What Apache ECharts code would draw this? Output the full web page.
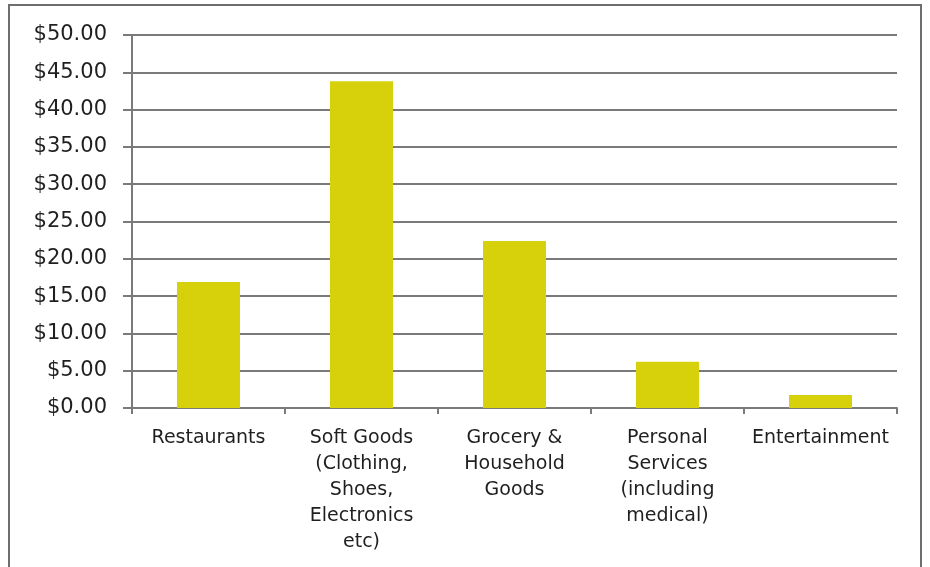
<!DOCTYPE html>
<html>
<head>
<meta charset="utf-8">
<script src="https://cdn.jsdelivr.net/npm/echarts@6/dist/echarts.min.js"></script>
<style>
  html, body { margin: 0; padding: 0; background: #fff; }
  #chart { width: 930px; height: 567px; }
</style>
</head>
<body>
<div id="chart"></div>
<script>
// Average spend per category
const categories = [
  'Restaurants',
  'Soft Goods\n(Clothing,\nShoes,\nElectronics\netc)',
  'Grocery &\nHousehold\nGoods',
  'Personal\nServices\n(including\nmedical)',
  'Entertainment'
];
const spend = [16.9, 43.8, 22.4, 6.2, 1.75];

const axisGray = '#7a7a7a';
const chart = echarts.init(document.getElementById('chart'));
chart.setOption({
  animation: false,
  backgroundColor: '#ffffff',
  textStyle: { fontFamily: 'DejaVu Sans' },
  graphic: [{
    type: 'rect',
    shape: { x: 9, y: 5, width: 912, height: 600 },
    style: { fill: 'none', stroke: '#6e6e6e', lineWidth: 2 }
  }],
  grid: { left: 132, right: 33, top: 35, bottom: 159 },
  xAxis: {
    type: 'category',
    data: categories,
    axisLine: { lineStyle: { color: axisGray, width: 2 } },
    axisTick: { show: true, length: 6, lineStyle: { color: axisGray, width: 2 } },
    axisLabel: {
      interval: 0,
      color: '#1f1f1f',
      fontSize: 19,
      lineHeight: 26,
      margin: 17
    }
  },
  yAxis: {
    type: 'value',
    min: 0,
    max: 50,
    interval: 5,
    axisLine: { show: true, lineStyle: { color: axisGray, width: 2 } },
    axisTick: { show: true, length: 9, lineStyle: { color: axisGray, width: 2 } },
    splitLine: { lineStyle: { color: axisGray, width: 2 } },
    axisLabel: {
      color: '#1f1f1f',
      fontSize: 21,
      margin: 25,
      formatter: v => '$' + v.toFixed(2)
    }
  },
  series: [{
    type: 'bar',
    data: spend,
    barWidth: 63,
    itemStyle: { color: '#d7d10c' }
  }]
});
</script>
</body>
</html>
